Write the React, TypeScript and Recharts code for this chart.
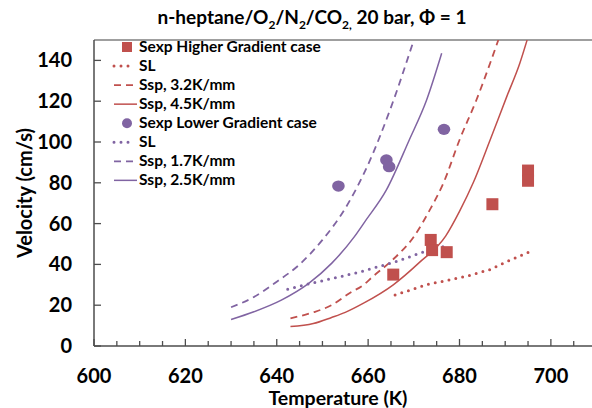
import React from "react"
import {
  ComposedChart,
  Line,
  Scatter,
  XAxis,
  YAxis,
  ReferenceLine,
  Legend,
  Label,
} from "recharts"

const RED = "#c0504d"
const PURPLE = "#8064a2"
const AXIS = "#4d4d4d"
const FONT = "Lato, 'Liberation Sans', sans-serif"

// tick values
const xTicks = [600, 605, 610, 615, 620, 625, 630, 635, 640, 645, 650, 655, 660, 665, 670, 675, 680, 685, 690, 695, 700, 705]
const yTicks = [0, 20, 40, 60, 80, 100, 120, 140]

// Sexp, higher gradient case (squares)
const sexpHighT = [665.5, 673.7, 674, 677.2, 687.2, 695, 695]
const sexpHighV = [35, 52, 47, 46, 69.5, 86, 81]

// SL, higher gradient case
const slHighT = [665.9, 670, 673.5, 677, 682, 686.7, 690, 695.2]
const slHighV = [25, 28, 30.5, 32, 34.5, 37.5, 41, 46]

// Ssp 3.2 K/mm
const ssp32T = [643, 648, 652, 656, 659, 661, 665, 670, 673.5, 676.5, 680, 683.7, 686.7, 688.5]
const ssp32V = [13.6, 16.5, 20, 26, 30, 34, 41.5, 53.6, 66.7, 80, 101, 120.6, 138.6, 150]

// Ssp 4.5 K/mm
const ssp45T = [643, 648, 652, 655, 659, 665.5, 671, 677, 680, 683, 686.7, 690.3, 693.2, 694.8]
const ssp45V = [9.5, 11, 14, 16.5, 21, 30, 40.5, 54, 66, 80, 101, 122, 138.6, 150]

// Sexp, lower gradient case (circles)
const sexpLowT = [653.5, 664, 664.6, 676.6]
const sexpLowV = [78.4, 91.2, 87.9, 106.2]

// SL, lower gradient case
const slLowT = [642.4, 648, 654, 659, 666, 672, 677]
const slLowV = [27.8, 31, 34, 36.8, 41.3, 46, 49]

// Ssp 1.7 K/mm
const ssp17T = [630, 635, 640, 645, 650, 655, 660, 665, 670]
const ssp17V = [19, 24, 31.5, 40, 52, 67.5, 89, 117, 150]

// Ssp 2.5 K/mm
const ssp25T = [630, 635, 641, 647, 652, 657, 659.3, 664, 669, 672.8, 676.1]
const ssp25V = [13, 16.8, 22.5, 30.7, 40.5, 53.6, 61, 76.5, 101, 120.6, 143.5]

const zip = (t: number[], v: number[]) => t.map((x, i) => ({ t: x, v: v[i] }))

const legendItems = [
  { label: "Sexp Higher Gradient case", color: RED, kind: "square" },
  { label: "SL", color: RED, kind: "dot" },
  { label: "Ssp, 3.2K/mm", color: RED, kind: "dash" },
  { label: "Ssp, 4.5K/mm", color: RED, kind: "solid" },
  { label: "Sexp Lower Gradient case", color: PURPLE, kind: "circle" },
  { label: "SL", color: PURPLE, kind: "dot" },
  { label: "Ssp, 1.7K/mm", color: PURPLE, kind: "dash" },
  { label: "Ssp, 2.5K/mm", color: PURPLE, kind: "solid" },
]

const lineStyle = (kind: string) => {
  if (kind === "dot") return { strokeWidth: 3, strokeDasharray: "0 7", strokeLinecap: "round" as const }
  if (kind === "dash") return { strokeWidth: 1.8, strokeDasharray: "7 5" }
  return { strokeWidth: 1.5 }
}

const XTick = ({ x, y, payload }: any) => {
  const major = payload.value % 20 === 0
  return (
    <g>
      <line x1={x} x2={x} y1={y} y2={y - (major ? 7 : 5)} stroke={AXIS} strokeWidth={1.3} />
      {major && (
        <text x={x} y={y + 37} textAnchor="middle" fontSize={20} fontWeight="bold" fontFamily={FONT} fill="#000">
          {payload.value}
        </text>
      )}
    </g>
  )
}

const YTick = ({ x, y, payload }: any) => (
  <g>
    <line x1={x} x2={x + 7} y1={y} y2={y} stroke={AXIS} strokeWidth={1.3} />
    <text x={x - 22} y={y + 7} textAnchor="end" fontSize={20} fontWeight="bold" fontFamily={FONT} fill="#000">
      {payload.value}
    </text>
  </g>
)

const Square = ({ cx, cy }: any) => <rect x={cx - 6} y={cy - 6} width={12} height={12} fill={RED} />
const Dot = ({ cx, cy }: any) => <ellipse cx={cx} cy={cy} rx={6.3} ry={5.6} fill={PURPLE} />

const renderLegend = () => (
  <svg width={250} height={160} style={{ display: "block" }}>
    {legendItems.map((it, i) => {
      const cy = 11 + i * 19.05
      let sym
      if (it.kind === "square") sym = <rect x={22} y={cy - 5} width={10} height={10} fill={it.color} />
      else if (it.kind === "circle") sym = <circle cx={27} cy={cy} r={5} fill={it.color} />
      else
        sym = (
          <line x1={14} x2={it.kind === "solid" ? 37 : it.kind === "dot" ? 35 : 34} y1={cy} y2={cy} stroke={it.color} {...lineStyle(it.kind)} />
        )
      return (
        <g key={i}>
          {sym}
          <text x={39} y={cy + 5} fontSize={15.5} fontWeight="bold" fontFamily={FONT} fill="#000">
            {it.label}
          </text>
        </g>
      )
    })}
  </svg>
)

export default function App() {
  return (
    <div style={{ position: "absolute", left: 0, top: 0, width: 592, height: 408, background: "#fff" }}>
      <svg width={592} height={40} style={{ position: "absolute", left: 0, top: 0 }}>
        <text x={312} y={24} textAnchor="middle" fontSize={19} fontWeight="bold" fontFamily={FONT} fill="#000">
          n-heptane/O<tspan fontSize={12} dy={5}>2</tspan>
          <tspan dy={-5}>/N</tspan>
          <tspan fontSize={12} dy={5}>2</tspan>
          <tspan dy={-5}>/CO</tspan>
          <tspan fontSize={12} dy={5}>2,</tspan>
          <tspan dy={-5}> 20 bar, Φ = 1</tspan>
        </text>
      </svg>
      <ComposedChart width={592} height={408} margin={{ top: 40, right: 0, bottom: 0, left: 0 }}>
        <XAxis
          type="number"
          dataKey="t"
          domain={[600, 709]}
          allowDataOverflow
          ticks={xTicks}
          interval={0}
          tick={<XTick />}
          tickSize={0}
          tickMargin={0}
          tickLine={false}
          axisLine={{ stroke: AXIS, strokeWidth: 1.5 }}
          height={62}
        >
          <Label
            content={({ viewBox }: any) => (
              <text
                x={viewBox.x + viewBox.width / 2 - 5}
                y={viewBox.y + 59}
                textAnchor="middle"
                fontSize={19.5}
                fontWeight="bold"
                fontFamily={FONT}
                fill="#000"
              >
                Temperature (K)
              </text>
            )}
          />
        </XAxis>
        <YAxis
          type="number"
          dataKey="v"
          domain={[0, 150]}
          allowDataOverflow
          ticks={yTicks}
          interval={0}
          tick={<YTick />}
          tickSize={0}
          tickMargin={0}
          tickLine={false}
          axisLine={{ stroke: AXIS, strokeWidth: 1.5 }}
          width={94}
        >
          <Label
            content={({ viewBox }: any) => {
              const cx = 32
              const cy = viewBox.y + viewBox.height / 2
              return (
                <text
                  x={cx}
                  y={cy}
                  transform={`rotate(-90, ${cx}, ${cy})`}
                  textAnchor="middle"
                  fontSize={20}
                  fontWeight="bold"
                  fontFamily={FONT}
                  fill="#000"
                >
                  Velocity (cm/s)
                </text>
              )
            }}
          />
        </YAxis>
        <ReferenceLine y={150} stroke="#7f7f7f" strokeWidth={1.3} />
        <Legend
          layout="horizontal"
          verticalAlign="middle"
          align="center"
          content={renderLegend}
          wrapperStyle={{ position: "absolute", left: 100, top: 36, width: 250, height: 160 }}
        />
        <Line data={zip(slHighT, slHighV)} dataKey="v" type="linear" stroke={RED} dot={false} {...lineStyle("dot")} isAnimationActive={false} />
        <Line data={zip(ssp32T, ssp32V)} dataKey="v" type="monotone" stroke={RED} dot={false} {...lineStyle("dash")} isAnimationActive={false} />
        <Line data={zip(ssp45T, ssp45V)} dataKey="v" type="monotone" stroke={RED} dot={false} {...lineStyle("solid")} isAnimationActive={false} />
        <Line data={zip(slLowT, slLowV)} dataKey="v" type="linear" stroke={PURPLE} dot={false} {...lineStyle("dot")} isAnimationActive={false} />
        <Line data={zip(ssp17T, ssp17V)} dataKey="v" type="monotone" stroke={PURPLE} dot={false} {...lineStyle("dash")} isAnimationActive={false} />
        <Line data={zip(ssp25T, ssp25V)} dataKey="v" type="monotone" stroke={PURPLE} dot={false} {...lineStyle("solid")} isAnimationActive={false} />
        <Scatter data={zip(sexpHighT, sexpHighV)} dataKey="v" shape={<Square />} isAnimationActive={false} />
        <Scatter data={zip(sexpLowT, sexpLowV)} dataKey="v" shape={<Dot />} isAnimationActive={false} />
      </ComposedChart>
    </div>
  )
}
